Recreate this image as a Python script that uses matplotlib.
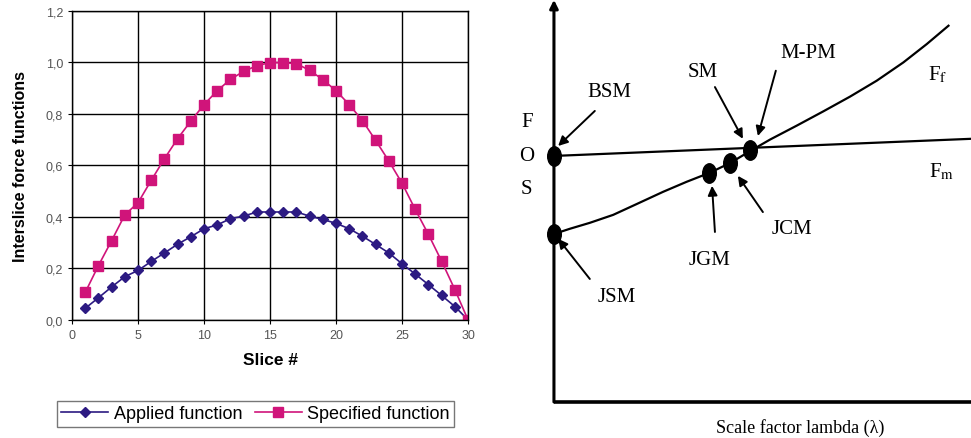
import matplotlib
matplotlib.use("Agg")
import matplotlib.pyplot as plt
from matplotlib.markers import MarkerStyle
from matplotlib.transforms import Affine2D

# left panel: interslice force functions per slice
SLICES = list(range(1, 31))
SPECIFIED = [0.107, 0.211, 0.308, 0.408, 0.455, 0.542, 0.626, 0.704, 0.772, 0.836,
             0.890, 0.934, 0.965, 0.987, 0.999, 0.999, 0.995, 0.969, 0.933, 0.890,
             0.836, 0.774, 0.697, 0.617, 0.531, 0.429, 0.332, 0.228, 0.118, 0.0]
APPLIED = [0.045, 0.086, 0.128, 0.168, 0.192, 0.227, 0.260, 0.294, 0.323, 0.354,
           0.369, 0.393, 0.403, 0.419, 0.419, 0.419, 0.419, 0.403, 0.390, 0.375,
           0.354, 0.325, 0.293, 0.260, 0.218, 0.178, 0.137, 0.095, 0.052, 0.0]
X_TICKS = [0, 5, 10, 15, 20, 25, 30]
Y_TICKS = [0.0, 0.2, 0.4, 0.6, 0.8, 1.0, 1.2]

# right panel: FOS vs lambda schematic
FM_LAM = [0.0, 1.0]
FM_FOS = [0.618, 0.661]
FF_LAM = [0.0, 0.038, 0.086, 0.142, 0.198, 0.262, 0.318, 0.374, 0.422, 0.470,
          0.518, 0.582, 0.646, 0.710, 0.774, 0.838, 0.894, 0.946]
FF_FOS = [0.422, 0.435, 0.450, 0.470, 0.497, 0.528, 0.553, 0.576, 0.600, 0.630,
          0.659, 0.694, 0.730, 0.767, 0.807, 0.853, 0.899, 0.945]
DOT_LAM = [0.0, 0.0, 0.372, 0.422, 0.470]
DOT_FOS = [0.618, 0.422, 0.575, 0.600, 0.634]

# method label: (text position, arrow tail, arrow head)
METHODS = {
    "BSM": ((0.134, 0.781), (0.098, 0.731), (0.010, 0.643)),
    "SM": ((0.357, 0.829), (0.386, 0.791), (0.453, 0.661)),
    "M-PM": ((0.609, 0.879), (0.532, 0.832), (0.489, 0.668)),
    "JCM": ((0.571, 0.435), (0.501, 0.477), (0.441, 0.568)),
    "JGM": ((0.374, 0.359), (0.386, 0.427), (0.379, 0.543)),
    "JSM": ((0.151, 0.266), (0.086, 0.309), (0.010, 0.410)),
}

APPLIED_COLOR = "#2C1A82"
SPECIFIED_COLOR = "#D0147A"

plt.rcParams["font.family"] = "Liberation Sans"
plt.rcParams["mathtext.fontset"] = "stix"

fig = plt.figure(figsize=(9.71, 4.39), dpi=100)

# ---- left chart ----
ax = fig.add_axes([0.0742, 0.269, 0.4078, 0.704])
ax.plot(SLICES, APPLIED, color=APPLIED_COLOR, marker="D", markersize=5.5, lw=1.2,
        label="Applied function")
ax.plot(SLICES, SPECIFIED, color=SPECIFIED_COLOR, marker="s", markersize=6.5, lw=1.2,
        label="Specified function")
ax.set_xlim(0, 30)
ax.set_ylim(0, 1.2)
ax.set_xticks(X_TICKS)
ax.set_yticks(Y_TICKS)
ax.set_yticklabels([f"{v:.1f}".replace(".", ",") for v in Y_TICKS])
ax.tick_params(labelsize=9, labelcolor="#555555", length=3, color="k")
ax.grid(True, color="black", lw=1.0)
for sp in ax.spines.values():
    sp.set_color("black")
    sp.set_linewidth(1.0)
ax.set_xlabel("Slice #", fontsize=12.5, fontweight="bold", labelpad=8)
ax.set_ylabel("Interslice force functions", fontsize=11.5, fontweight="bold", labelpad=13)
fig.legend(loc="center", bbox_to_anchor=(0.263, 0.055), ncol=2, fontsize=13,
           frameon=True, fancybox=False, edgecolor="#555555", handlelength=2.6,
           columnspacing=0.7, handletextpad=0.3, borderpad=0.25)

# ---- right schematic ----
bx = fig.add_axes([0.5705, 0.082, 0.4295, 0.907])
bx.set_xlim(0, 1)
bx.set_ylim(0, 1)
bx.axis("off")
serif = dict(family="Liberation Serif", fontsize=15)

# axes lines with arrow at top
bx.annotate("", xy=(0, 1.01), xytext=(0, 0), xycoords="data", annotation_clip=False,
            arrowprops=dict(arrowstyle="-|>", color="black", lw=2.2, mutation_scale=12,
                            shrinkA=0, shrinkB=0))
bx.plot([0, 1.02], [0, 0], color="black", lw=2.6, clip_on=False, solid_capstyle="butt")

bx.plot(FM_LAM, FM_FOS, color="black", lw=1.6, clip_on=False)
bx.plot(FF_LAM, FF_FOS, color="black", lw=1.6)
dot = MarkerStyle("o", transform=Affine2D().scale(0.7, 1.0))
bx.plot(DOT_LAM, DOT_FOS, linestyle="none", marker=dot, markersize=14, color="black",
        clip_on=False)

for name, (txt, tail, head) in METHODS.items():
    bx.text(txt[0], txt[1], name, ha="center", va="center", **serif)
    bx.annotate("", xy=head, xytext=tail,
                arrowprops=dict(arrowstyle="-|>", color="black", lw=1.4,
                                mutation_scale=14, shrinkA=0, shrinkB=0))

bx.text(0.921, 0.824, r"F$_\mathrm{f}$", ha="center", va="center", **serif)
bx.text(0.930, 0.580, r"F$_\mathrm{m}$", ha="center", va="center", **serif)
for letter, y in zip("FOS", [0.704, 0.618, 0.535]):
    bx.text(-0.065, y, letter, ha="center", va="center", clip_on=False, **serif)
fig.text(0.824, 0.004, "Scale factor lambda (\u03bb)", ha="center", va="bottom",
         family="Liberation Serif", fontsize=13)

fig.savefig("out.png", dpi=100)
